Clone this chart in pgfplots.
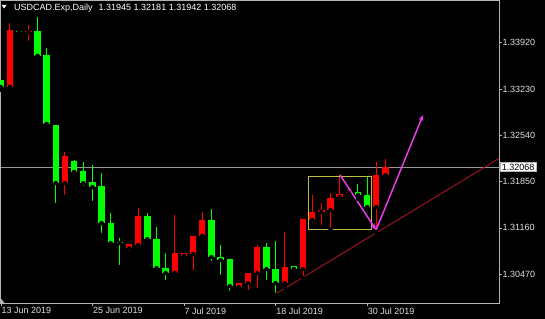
\documentclass[border=0pt]{standalone}
\usepackage{pgfplots}
\pgfplotsset{compat=1.18}
\usepackage{pgfplotstable}
\usetikzlibrary{arrows.meta}
\usepackage{fontspec}
\setmainfont{Liberation Sans}
\definecolor{cred}{RGB}{255,0,0}
\definecolor{cgreen}{RGB}{0,255,0}
\definecolor{cframe}{RGB}{180,180,180}
\definecolor{ctext}{RGB}{225,225,225}
\definecolor{ctrend}{RGB}{170,20,35}
\definecolor{cbox}{RGB}{190,190,60}
\definecolor{cmag}{RGB}{235,60,235}
\definecolor{cprice}{RGB}{150,150,150}

\pgfplotstableread{
x l h bl bh
1 1.33260 1.34214 1.33260 1.34110
3 1.33916 1.34184 1.34080 1.34102
7 1.31620 1.32291 1.31828 1.32231
14 1.30785 1.30919 1.30859 1.30919
15 1.30844 1.31456 1.30904 1.31336
19 1.30487 1.31351 1.30487 1.30785
20 1.30740 1.30785 1.30740 1.30785
21 1.30501 1.31038 1.30770 1.31038
22 1.31038 1.31396 1.31038 1.31277
26 1.30278 1.30337 1.30278 1.30337
27 1.30203 1.30487 1.30337 1.30487
28 1.30233 1.30904 1.30487 1.30874
31 1.30278 1.31098 1.30337 1.30576
33 1.30412 1.31292 1.30546 1.31292
34 1.31202 1.31650 1.31277 1.31396
35 1.31172 1.31530 1.31396 1.31426
36 1.31128 1.31679 1.31426 1.31605
37 1.31575 1.31948 1.31620 1.31664
38 1.31620 1.31739 1.31679 1.31694
41 1.31098 1.32142 1.31471 1.31948
42 1.31942 1.32181 1.31945 1.32068
}\redtab

\pgfplotstableread{
x l h bl bh
0 1.33215 1.33394 1.33260 1.33364
2 1.34080 1.34110 1.34087 1.34102
4 1.33722 1.34304 1.33722 1.34095
5 1.32708 1.33841 1.32708 1.33737
6 1.31500 1.32693 1.31828 1.32693
8 1.31992 1.32171 1.31992 1.32156
9 1.31754 1.32142 1.31828 1.32007
10 1.31530 1.32097 1.31769 1.31843
11 1.31053 1.31977 1.31232 1.31784
12 1.30904 1.31381 1.30934 1.31232
13 1.30576 1.31008 1.30934 1.30949
16 1.30949 1.31381 1.30993 1.31336
17 1.30531 1.31172 1.30561 1.30993
18 1.30352 1.30785 1.30487 1.30561
23 1.30636 1.31441 1.30725 1.31277
24 1.30427 1.30904 1.30680 1.30725
25 1.30188 1.30695 1.30293 1.30695
29 1.30352 1.30934 1.30546 1.30874
30 1.30159 1.30964 1.30337 1.30546
32 1.30546 1.30591 1.30546 1.30591
39 1.31590 1.31813 1.31650 1.31694
40 1.31426 1.31918 1.31471 1.31650
}\greentab

\begin{document}
\begin{tikzpicture}
\fill[black] (-0.5bp,-16bp) rectangle (544.5bp,303bp);
\begin{axis}[
  at={(0,0)}, anchor=south west,
  scale only axis, width=498.5bp, height=303bp,
  xmin=-0.036, xmax=54.4, ymin=1.30039, ymax=1.34557,
  axis line style={draw=cframe, line width=0.8bp},
  tick style={draw=cframe, line width=0.6bp},
  tick align=outside, major tick length=2.5bp,
  xtick={0,10,20,30,40},
  xticklabels={13 Jun 2019,25 Jun 2019,7 Jul 2019,18 Jul 2019,30 Jul 2019},
  xtick pos=bottom,
  xticklabel style={anchor=north west, inner sep=0pt, xshift=0.5bp, yshift=-2bp, text=ctext, font=\fontsize{9bp}{10bp}\selectfont},
  ytick={1.30470,1.31160,1.31850,1.32540,1.33230,1.33920},
  yticklabels={1.30470,1.31160,1.31850,1.32540,1.33230,1.33920},
  ytick pos=right,
  yticklabel style={anchor=west, inner sep=0pt, xshift=1bp, text=ctext, font=\fontsize{9bp}{10bp}\selectfont},
  clip=true,
]
\addplot[cprice, line width=0.7bp, forget plot] coordinates {(-0.036,1.32068) (54.4,1.32068)};
\addplot[ctrend, line width=0.9bp, forget plot] coordinates {(30,1.30174) (54.4,1.32194)};
% wicks
\addplot[only marks, mark=none, forget plot, error bars/.cd, y dir=plus, y explicit, error mark=none,
  error bar style={draw=cred, line width=1bp}]
  table[x=x, y=l, y error plus expr=\thisrow{h}-\thisrow{l}] {\redtab};
\addplot[only marks, mark=none, forget plot, error bars/.cd, y dir=plus, y explicit, error mark=none,
  error bar style={draw=cgreen, line width=1bp}]
  table[x=x, y=l, y error plus expr=\thisrow{h}-\thisrow{l}] {\greentab};
% bodies
\addplot[only marks, mark=none, forget plot, error bars/.cd, y dir=plus, y explicit, error mark=none,
  error bar style={draw=cred, line width=6.4bp}]
  table[x=x, y=bl, y error plus expr={max(\thisrow{bh}-\thisrow{bl},0.00012)}] {\redtab};
\addplot[only marks, mark=none, forget plot, error bars/.cd, y dir=plus, y explicit, error mark=none,
  error bar style={draw=cgreen, line width=6.4bp}]
  table[x=x, y=bl, y error plus expr={max(\thisrow{bh}-\thisrow{bl},0.00012)}] {\greentab};
% annotations
\addplot[cbox, line width=0.8bp, forget plot] coordinates {(33.56,1.31933) (40.44,1.31933) (40.44,1.31143) (33.56,1.31143) (33.56,1.31933)};
\addplot[cmag, line width=1.5bp, forget plot, -{Stealth[length=6bp,width=5bp]}] coordinates {(37.05,1.31948) (40.98,1.31128)};
\addplot[cmag, line width=1.5bp, forget plot, -{Stealth[length=6bp,width=5bp]}] coordinates {(40.98,1.31128) (46.11,1.32842)};
\coordinate (pl) at (axis cs:54.4,1.32068);
\end{axis}
\node[fill=white, draw=cframe, line width=0.5bp, text=black, anchor=west, inner xsep=1.5bp, inner ysep=1bp, font=\fontsize{9bp}{10bp}\selectfont] at ([xshift=1bp]pl) {1.32068};
\fill[white] (1.2bp,298bp) -- (6bp,298bp) -- (3.6bp,294.5bp) -- cycle;
\fill[cframe] (0bp,0bp) -- (4bp,0bp) -- (0bp,5bp) -- cycle;
\node[anchor=base west, inner sep=0pt, text=white, font=\fontsize{9bp}{10bp}\selectfont] at (13.5bp,292bp) {USDCAD.Exp,Daily\hspace{6bp}1.31945 1.32181 1.31942 1.32068};
\pgfresetboundingbox
\path (-0.5bp,-16bp) rectangle (544.5bp,303bp);
\end{tikzpicture}
\end{document}
